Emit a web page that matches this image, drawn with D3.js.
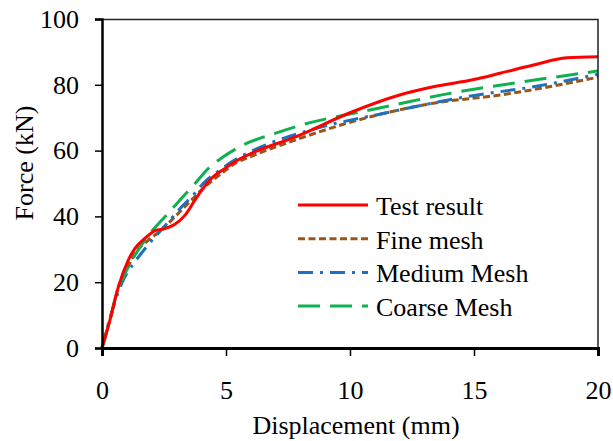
<!DOCTYPE html>
<html>
<head>
<meta charset="utf-8">
<script src="https://cdn.jsdelivr.net/npm/d3@7"></script>
<style>
  body { margin: 0; background: #fff; }
  text { font-family: "Liberation Serif", "Times New Roman", serif; fill: #000; }
</style>
</head>
<body>
<div id="chart"></div>
<script>

// data
var testDisp   = [0, 0.32, 0.66, 1.06, 1.33, 1.73, 2.14, 2.54, 2.94, 3.35, 3.75, 4.02, 4.42, 4.96, 5.36, 7.98, 10, 12.0, 13.36, 15, 16.05, 17.4, 18.74, 20];
var testForce  = [0, 8.5, 18.6, 26.7, 30.3, 33.3, 35.7, 36.3, 37.6, 40.4, 45, 48, 51.6, 54.6, 56.6, 64.7, 71.5, 76.9, 79.4, 81.6, 83.5, 86, 88.2, 88.5];

var fineDisp   = [0, 0.12, 0.39, 0.66, 0.93, 1.33, 1.87, 2.41, 2.94, 3.48, 4.15, 4.83, 5.36, 5.97, 7.98, 10, 13.36, 16.05, 20];
var fineForce  = [0, 3.4, 10.5, 18.6, 22.7, 28.8, 32.8, 35.9, 39.9, 44, 49, 53.1, 56.1, 58.1, 63.7, 68.6, 74.4, 76.9, 82.3];

var medDisp    = [0, 0.3, 0.86, 1.33, 1.8, 2.2, 2.74, 3.21, 3.68, 4.08, 4.76, 5.36, 5.97, 8.66, 11.34, 14.7, 17.4, 20];
var medForce   = [0, 8.5, 20.7, 26.2, 30.8, 34.3, 38.9, 42.9, 46.5, 50, 54.1, 57.2, 59.6, 66.8, 71.3, 76.4, 79.4, 83.2];

var coarseDisp  = [0, 0.32, 0.59, 0.93, 1.46, 2.0, 2.54, 3.21, 3.75, 4.29, 4.89, 5.56, 7.04, 8.39, 10, 11.48, 14.03, 16.7, 20];
var coarseForce = [0, 8.5, 16.6, 22.7, 29.8, 35.4, 39.9, 45.5, 50, 54.6, 58.1, 61.2, 65.4, 68.5, 71.1, 73.4, 77.4, 80.6, 84.2];

var xTicks = [0, 5, 10, 15, 20];
var yTicks = [0, 20, 40, 60, 80, 100];

var seriesNames = ["Test result", "Fine mesh", "Medium Mesh", "Coarse Mesh"];

var Chart = function(container){
    this.container = container;
    this.width = 613;
    this.height = 441;
    this.margin = {left: 102, right: 15, top: 19, bottom: 93};
    this.fontSize = 26;
    this._init();
};

Chart.prototype._init = function(){
    this._build_graph();
    this._draw_lines();
    this._draw_axes();
    this._draw_legend();
};

Chart.prototype._build_graph = function(){
    var m = this.margin;
    this.innerW = this.width - m.left - m.right;
    this.innerH = this.height - m.top - m.bottom;

    this._svg = d3.select(this.container)
        .append("svg")
        .attr("width", this.width)
        .attr("height", this.height);

    this._chart = this._svg.append("g")
        .attr("transform", "translate(" + m.left + "," + m.top + ")");

    this.x = d3.scaleLinear().domain([0, 20]).range([0, this.innerW]);
    this.y = d3.scaleLinear().domain([0, 100]).range([this.innerH, 0]);
};

Chart.prototype._series = function(){
    var zip = function(a, b){ return a.map(function(d, i){ return [d, b[i]]; }); };
    return [
        {name: seriesNames[0], pts: zip(testDisp, testForce),   color: "#ff0000", dash: null},
        {name: seriesNames[1], pts: zip(fineDisp, fineForce),   color: "#9c5418", dash: "7,3.5"},
        {name: seriesNames[2], pts: zip(medDisp, medForce),     color: "#1a72c0", dash: "15,7,3,7"},
        {name: seriesNames[3], pts: zip(coarseDisp, coarseForce), color: "#10b050", dash: "22,10"}
    ];
};

Chart.prototype._draw_lines = function(){
    var self = this;
    var line = d3.line()
        .x(function(d){ return self.x(d[0]); })
        .y(function(d){ return self.y(d[1]); })
        .curve(d3.curveMonotoneX);

    // test result goes on top
    var order = [1, 2, 3, 0];
    var s = this._series();
    order.forEach(function(i){
        self._chart.append("path")
            .attr("d", line(s[i].pts))
            .attr("fill", "none")
            .attr("stroke", s[i].color)
            .attr("stroke-width", 3)
            .attr("stroke-dasharray", s[i].dash);
    });
};

Chart.prototype._draw_axes = function(){
    var W = this.innerW, H = this.innerH;
    var fs = this.fontSize;

    // top and right frame
    this._chart.append("path")
        .attr("d", "M0,0.5H" + W + "V" + (H + 8))
        .attr("fill", "none")
        .attr("stroke", "#222")
        .attr("stroke-width", 1.5);

    var xAxis = this._chart.append("g")
        .attr("transform", "translate(0," + H + ")")
        .call(d3.axisBottom(this.x).tickValues(xTicks).tickSize(8).tickPadding(25));
    xAxis.select(".domain").attr("stroke-width", 3);

    var yAxis = this._chart.append("g")
        .call(d3.axisLeft(this.y).tickValues(yTicks).tickSize(7).tickPadding(16));
    yAxis.select(".domain").attr("stroke-width", 2.5);

    [xAxis, yAxis].forEach(function(ax){
        ax.attr("font-family", "Liberation Serif").attr("font-size", fs);
        ax.selectAll(".tick line").attr("stroke-width", 1.5);
        ax.selectAll(".tick text").attr("fill", "#000");
    });

    this._svg.append("text")
        .attr("x", this.margin.left + W / 2 + 6)
        .attr("y", 434)
        .attr("text-anchor", "middle")
        .style("font-size", fs + "px")
        .text("Displacement (mm)");

    this._svg.append("text")
        .attr("transform", "translate(33,163) rotate(-90)")
        .attr("text-anchor", "middle")
        .style("font-size", fs + "px")
        .text("Force (kN)");
};

Chart.prototype._draw_legend = function(){
    var fs = this.fontSize;
    var s = this._series();
    var lg = this._svg.append("g").attr("transform", "translate(298,205)");
    s.forEach(function(d, i){
        var row = lg.append("g").attr("transform", "translate(0," + (i * 33.7) + ")");
        row.append("line")
            .attr("x1", 0).attr("x2", 70)
            .attr("y1", 0).attr("y2", 0)
            .attr("stroke", d.color)
            .attr("stroke-width", 3)
            .attr("stroke-dasharray", d.dash);
        row.append("text")
            .attr("x", 78)
            .attr("y", 10)
            .style("font-size", fs + "px")
            .text(d.name);
    });
};

new Chart("#chart");
</script>
</body>
</html>
